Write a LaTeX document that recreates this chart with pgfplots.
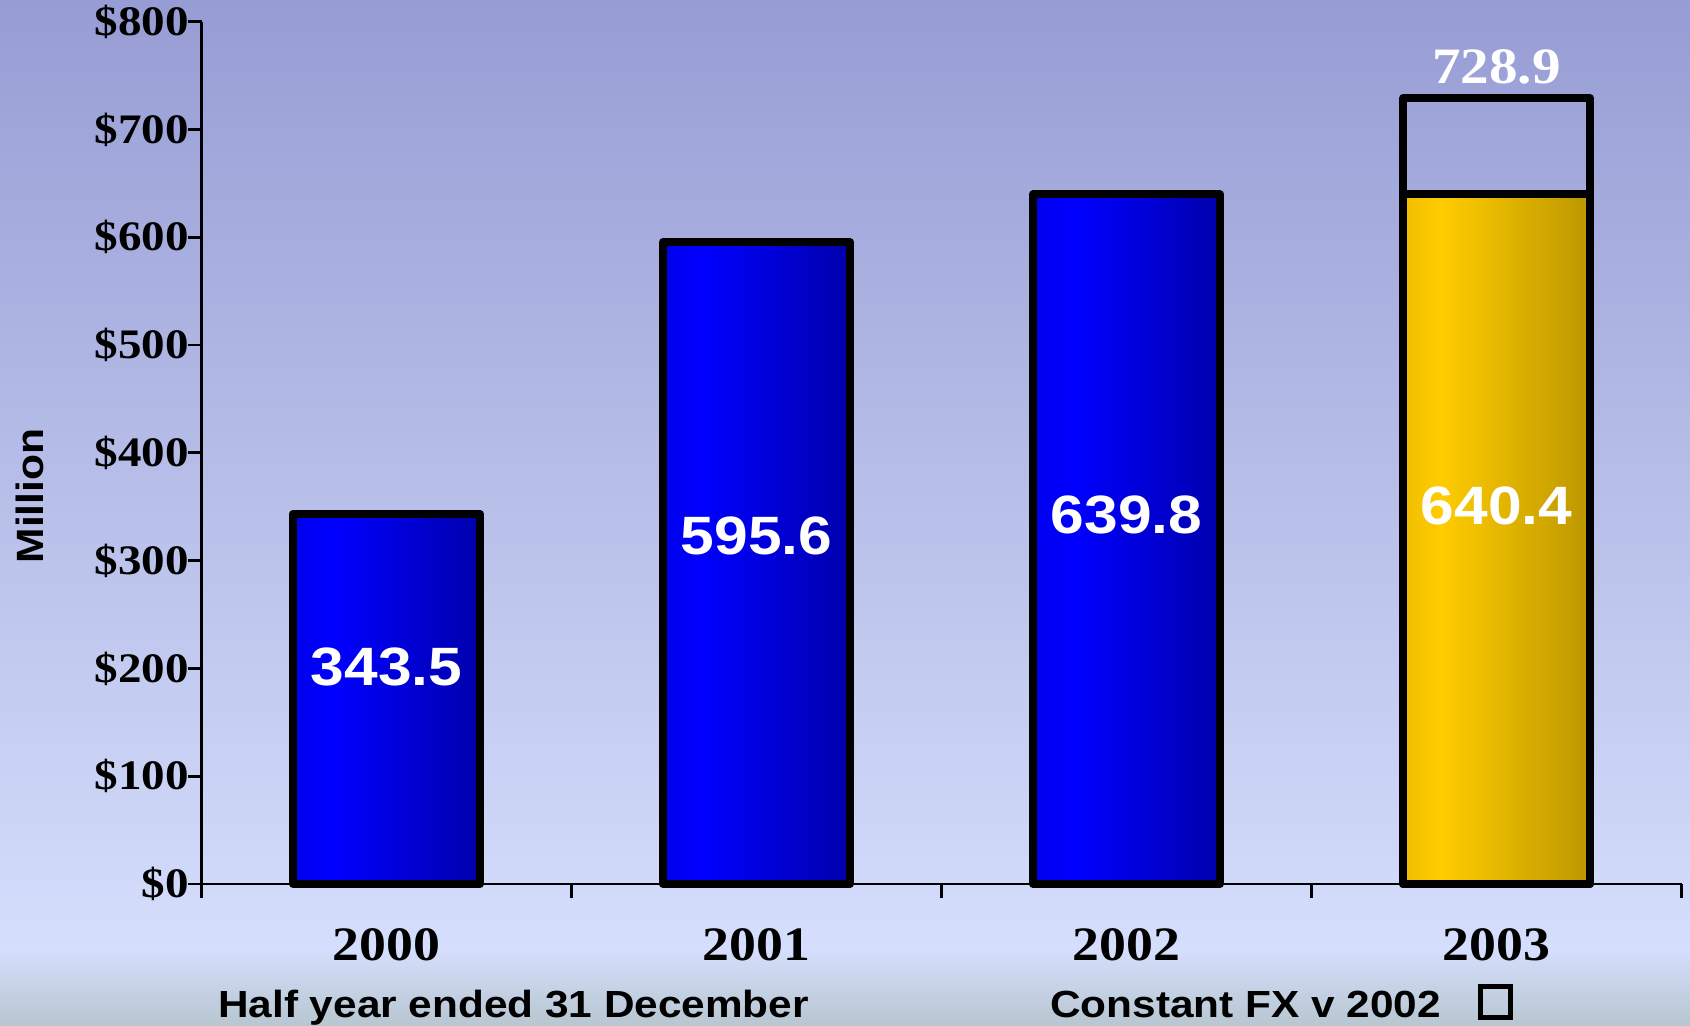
\documentclass[border=0pt]{standalone}
\usepackage{fontspec}
\usepackage{pgfplots}
\pgfplotsset{compat=1.18}
\newfontfamily\tnr[FakeStretch=1.12]{Liberation Serif}
\newfontfamily\arl[FakeStretch=1.12]{Liberation Sans}
\definecolor{bgtop}{RGB}{151,157,212}
\definecolor{bgmid}{RGB}{213,222,252}
\definecolor{bgbot}{RGB}{183,198,208}
\definecolor{bl1}{RGB}{0,0,238}
\definecolor{bl2}{RGB}{0,0,255}
\definecolor{bl3}{RGB}{0,0,172}
\definecolor{gd1}{RGB}{240,190,0}
\definecolor{gd2}{RGB}{255,204,0}
\definecolor{gd3}{RGB}{188,150,0}
\pgfdeclarehorizontalshading{bluebar}{100bp}{color(0bp)=(bl1); color(25bp)=(bl1); color(36bp)=(bl2); color(75bp)=(bl3); color(100bp)=(bl3)}
\pgfdeclarehorizontalshading{goldbar}{100bp}{color(0bp)=(gd1); color(25bp)=(gd1); color(35bp)=(gd2); color(75bp)=(gd3); color(100bp)=(gd3)}
\pgfplotsset{mybar/.style={ybar, bar shift=0pt, draw=black, line width=4pt, line join=round}}
\begin{document}
\begin{tikzpicture}
\shade[top color=bgtop, bottom color=bgmid] (0,38pt) rectangle (845pt,513pt);
\shade[top color=bgmid, bottom color=bgbot] (0,0) rectangle (845pt,38.3pt);
\path[use as bounding box] (0,0) rectangle (845pt,513pt);
\begin{axis}[
  at={(100.75pt,71pt)}, anchor=south west,
  scale only axis, width=740pt, height=431.15pt,
  xmin=-0.5, xmax=3.5, ymin=0, ymax=800,
  enlargelimits=false, clip=false,
  axis lines=left,
  axis line style={-, line width=1.35pt, black},
  tick style={line width=1.35pt, black},
  tick align=outside,
  major tick length=6.75pt,
  minor tick length=7pt,
  ytick={0,100,...,800},
  yticklabels={\$0,\$100,\$200,\$300,\$400,\$500,\$600,\$700,\$800},
  yticklabel style={font=\tnr\bfseries\fontsize{21}{23}\selectfont, inner sep=0pt, xshift=0.5pt},
  xtick={0,1,2,3},
  xticklabels={2000,2001,2002,2003},
  major x tick style={draw=none},
  minor xtick={-0.5,0.5,1.5,2.5,3.5},
  xticklabel style={font=\tnr\bfseries\fontsize{24}{26}\selectfont, inner sep=0pt, anchor=north, yshift=-15.5pt},
  bar width=93.5pt,
]
\addplot[mybar, fill=none] coordinates {(3,728.9)};
\addplot[mybar, shade, shading=bluebar] coordinates {(0,343.5)};
\addplot[mybar, shade, shading=bluebar] coordinates {(1,595.6)};
\addplot[mybar, shade, shading=bluebar] coordinates {(2,639.8)};
\addplot[mybar, shade, shading=goldbar] coordinates {(3,640.4)};
\node[font=\arl\bfseries\fontsize{27}{29}\selectfont, text=white, inner sep=0pt] at (axis cs:0,201) {343.5};
\node[font=\arl\bfseries\fontsize{27}{29}\selectfont, text=white, inner sep=0pt] at (axis cs:1,323) {595.6};
\node[font=\arl\bfseries\fontsize{27}{29}\selectfont, text=white, inner sep=0pt] at (axis cs:2,342) {639.8};
\node[font=\arl\bfseries\fontsize{27}{29}\selectfont, text=white, inner sep=0pt] at (axis cs:3,351) {640.4};
\node[font=\tnr\bfseries\fontsize{25.5}{27}\selectfont, text=white, inner sep=0pt] at (axis cs:3,758) {728.9};
\end{axis}
\node[rotate=90, font=\arl\bfseries\fontsize{19}{21}\selectfont, inner sep=0pt] at (15pt,265pt) {Million};
\node[anchor=base, font=\arl\bfseries\fontsize{18.9}{21}\selectfont, inner sep=0pt] at (256.8pt,4.2pt) {Half year ended 31 December};
\node[anchor=base west, font=\arl\bfseries\fontsize{18.9}{21}\selectfont, inner sep=0pt] at (525pt,4.2pt) {Constant FX v 2002};
\draw[line width=2.5pt] (740pt,4.25pt) rectangle (755.2pt,19.75pt);
\end{tikzpicture}
\end{document}
